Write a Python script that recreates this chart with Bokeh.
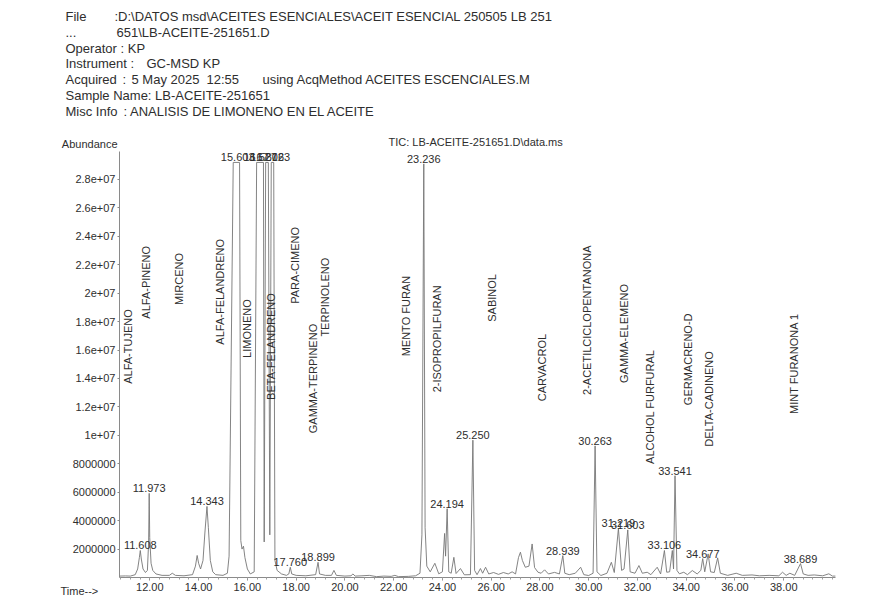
import numpy as np
from bokeh.plotting import figure
from bokeh.models import FixedTicker, Range1d, ColumnDataSource
from bokeh.core.properties import value
from bokeh.embed import file_html
from bokeh.resources import INLINE

FONT = "Liberation Sans"
INK = "#2e2e2e"
TRACE = "#767676"

# ---------------- data ----------------
# TIC trace (retention time in min, abundance)
rt_min = [10.76, 11.00, 11.20, 11.40, 11.50, 11.57, 11.608, 11.65, 11.72, 11.82,
          11.90, 11.95, 11.973, 11.995, 12.05, 12.12, 12.25, 12.50, 12.80, 12.92,
          13.05, 13.40, 13.75, 13.87, 13.94, 14.00, 14.08, 14.18, 14.26, 14.343,
          14.40, 14.48, 14.58, 14.70, 15.00, 15.18, 15.25, 15.42, 15.68, 15.73,
          15.78, 15.84, 15.90, 16.00, 16.12, 16.28, 16.38, 16.66, 16.69, 16.75,
          16.86, 16.92, 16.98, 17.08, 17.13, 17.22, 17.40, 17.60, 17.70, 17.76,
          17.82, 18.00, 18.40, 18.80, 18.899, 18.96, 19.20, 19.45, 19.55, 19.65,
          20.00, 20.25, 20.33, 20.42, 20.70, 21.00, 21.30, 21.60, 21.90, 22.05,
          22.20, 22.60, 22.90, 23.08, 23.16, 23.236, 23.29, 23.36, 23.50, 23.69,
          23.85, 24.00, 24.09, 24.13, 24.194, 24.26, 24.36, 24.47, 24.56, 24.74,
          24.90, 25.15, 25.250, 25.32, 25.42, 25.56, 25.65, 25.77, 25.90, 26.10,
          26.30, 26.50, 26.70, 26.86, 27.00, 27.12, 27.20, 27.28, 27.40, 27.55,
          27.68, 27.78, 27.92, 28.05, 28.19, 28.35, 28.60, 28.80, 28.939, 29.02,
          29.20, 29.45, 29.67, 29.80, 30.00, 30.18, 30.263, 30.34, 30.50, 30.75,
          30.93, 31.05, 31.219, 31.35, 31.45, 31.603, 31.70, 31.90, 32.06, 32.20,
          32.40, 32.55, 32.81, 32.95, 33.106, 33.20, 33.32, 33.43, 33.48, 33.541,
          33.62, 33.72, 33.90, 34.05, 34.25, 34.45, 34.60, 34.677, 34.76, 34.90,
          35.00, 35.15, 35.29, 35.40, 35.70, 36.05, 36.30, 36.70, 37.00, 37.40,
          37.80, 37.95, 38.10, 38.25, 38.45, 38.689, 38.80, 39.00, 39.25, 39.60,
          39.85, 40.00, 40.12]
abundance = [1.0e5, 1.1e5, 1.0e5, 2.0e5, 6.0e5, 1.4e6, 1.9e6, 1.3e6, 6.0e5, 3.5e5,
             5.0e5, 2.5e6, 5.92e6, 2.8e6, 1.0e6, 5.0e5, 2.5e5, 1.5e5, 1.5e5, 3.0e5,
             1.5e5, 1.2e5, 2.0e5, 8.0e5, 1.55e6, 1.0e6, 6.0e5, 1.2e6, 3.2e6, 5.0e6,
             3.5e6, 1.2e6, 4.0e5, 2.0e5, 1.5e5, 3.0e5, 1.5e6, 2.92e7, 2.92e7, 2.6e6,
             2.0e6, 2.2e6, 1.4e6, 6.0e5, 2.5e5, 4.0e5, 2.92e7, 2.92e7, 2.5e6, 2.92e7,
             2.92e7, 3.0e6, 2.92e7, 2.92e7, 1.2e6, 5.0e5, 2.5e5, 1.5e5, 2.5e5, 7.2e5,
             2.5e5, 1.5e5, 1.2e5, 2.0e5, 1.07e6, 2.5e5, 1.5e5, 1.5e5, 5.0e5, 1.5e5,
             1.0e5, 1.2e5, 2.5e5, 1.0e5, 1.2e5, 1.5e5, 6.0e4, 1.0e5, 8.0e4, 1.5e5,
             6.0e4, 8.0e4, 1.2e5, 3.0e5, 3.0e6, 2.91e7, 3.5e6, 8.0e5, 4.0e5, 1.0e6,
             2.6e5, 4.0e5, 3.1e6, 1.5e6, 4.84e6, 4.0e5, 3.0e5, 1.42e6, 2.8e5, 6.3e5,
             1.9e5, 2.0e5, 9.66e6, 5.0e5, 2.0e5, 6.3e5, 3.0e5, 7.2e5, 2.5e5, 3.5e5,
             2.2e5, 3.5e5, 2.5e5, 4.0e5, 2.5e5, 1.4e6, 1.78e6, 1.2e6, 7.2e5, 8.0e5,
             2.36e6, 7.0e5, 3.7e5, 3.0e5, 5.4e5, 2.5e5, 3.6e5, 2.5e5, 1.54e6, 3.0e5,
             2.0e5, 3.0e5, 7.2e5, 2.0e5, 1.4e5, 3.0e5, 9.26e6, 4.0e5, 1.4e5, 3.0e5,
             1.07e6, 3.5e5, 3.45e6, 5.0e5, 6.0e5, 3.35e6, 4.0e5, 3.0e5, 8.4e5, 3.0e5,
             3.7e5, 2.0e5, 7.2e5, 2.5e5, 1.9e6, 3.7e5, 4.0e5, 1.9e6, 6.0e5, 7.16e6,
             5.0e5, 2.6e5, 3.7e5, 2.0e5, 4.9e5, 2.5e5, 5.0e5, 1.33e6, 4.0e5, 1.66e6,
             4.0e5, 3.5e5, 1.38e6, 3.0e5, 1.5e5, 3.0e5, 1.5e5, 1.8e5, 1.2e5, 1.5e5,
             1.2e5, 3.7e5, 1.5e5, 3.0e5, 1.5e5, 9.8e5, 2.5e5, 1.5e5, 1.8e5, 1.2e5,
             2.6e5, 1.0e5, 1.0e5]

# integrated peaks labelled with their retention time
peak_rt = [11.608, 11.973, 14.343, 15.603, 16.527, 16.812, 17.063, 17.760, 18.899,
           23.236, 24.194, 25.250, 28.939, 30.263, 31.219, 31.603, 33.106, 33.541,
           34.677, 38.689]

# compound names (vertical annotations): retention time and abundance level of label centre
compound_names = ["ALFA-TUJENO", "ALFA-PINENO", "MIRCENO", "ALFA-FELANDRENO", "LIMONENO",
                  "BETA-FELANDRENO", "PARA-CIMENO", "GAMMA-TERPINENO", "TERPINOLENO",
                  "MENTO FURAN", "2-ISOPROPILFURAN", "SABINOL", "CARVACROL",
                  "2-ACETILCICLOPENTANONA", "GAMMA-ELEMENO", "ALCOHOL FURFURAL",
                  "GERMACRENO-D", "DELTA-CADINENO", "MINT FURANONA 1"]
compound_rt = [11.12, 11.86, 13.19, 14.87, 15.99, 16.95, 17.97, 18.68, 19.20,
               22.49, 23.79, 26.03, 28.09, 29.94, 31.44, 32.53, 34.07, 34.93, 38.41]
compound_level = [1.625e7, 2.077e7, 2.10e7, 2.01e7, 1.751e7, 1.625e7, 2.196e7, 1.40e7, 1.972e7,
                  1.839e7, 1.679e7, 1.967e7, 1.477e7, 1.81e7, 1.717e7, 1.201e7, 1.535e7,
                  1.256e7, 1.505e7]

# axes
x_ticks = [12, 14, 16, 18, 20, 22, 24, 26, 28, 30, 32, 34, 36, 38]
x_tick_labels = ["12.00", "14.00", "16.00", "18.00", "20.00", "22.00", "24.00",
                 "26.00", "28.00", "30.00", "32.00", "34.00", "36.00", "38.00"]
y_ticks = [2e6, 4e6, 6e6, 8e6, 1e7, 1.2e7, 1.4e7, 1.6e7, 1.8e7, 2e7, 2.2e7, 2.4e7, 2.6e7, 2.8e7]
y_tick_labels = ["2000000", "4000000", "6000000", "8000000", "1e+07", "1.2e+07", "1.4e+07",
                 "1.6e+07", "1.8e+07", "2e+07", "2.2e+07", "2.4e+07", "2.6e+07", "2.8e+07"]

# report header (text, x pixel, y pixel on page)
header = [
    ("File", 65, 16), (":D:\\DATOS msd\\ACEITES ESENCIALES\\ACEIT ESENCIAL 250505 LB 251", 114, 16),
    ("...", 65, 32), ("651\\LB-ACEITE-251651.D", 116, 32),
    ("Operator", 65, 48), (": KP", 120, 48),
    ("Instrument :", 65, 63), ("GC-MSD KP", 146, 63),
    ("Acquired", 65, 79), (":", 122, 79), ("5 May 2025", 131, 79), ("12:55", 206, 79),
    ("using AcqMethod ACEITES ESCENCIALES.M", 262, 79),
    ("Sample Name: LB-ACEITE-251651", 65, 95),
    ("Misc Info", 65, 111), (": ANALISIS DE LIMONENO EN EL ACEITE", 123, 111),
]

# ---------------- page geometry ----------------
W, H = 885, 597
PX_LEFT, PX_BASE = 119, 577          # page pixel of time axis start / zero abundance
X0, X1 = 10.755, 40.12               # time span of the chromatogram
PPM = 24.38                          # pixels per minute
VPP = 70350.0                        # abundance per pixel
Y_TOP = 3.0e7


def tx(px):
    return X0 + (px - PX_LEFT) / PPM


def ty(py):
    return (PX_BASE - py) * VPP


p = figure(width=W, height=H, x_range=Range1d(tx(0), tx(W)), y_range=Range1d(ty(H), ty(0)),
           output_backend="svg", toolbar_location=None,
           min_border_left=0, min_border_right=0, min_border_top=0, min_border_bottom=0)
p.outline_line_color = None
p.grid.visible = False
p.background_fill_color = "white"
p.border_fill_color = "white"

p.xaxis.fixed_location = 0
p.xaxis.bounds = (X0, X1)
p.yaxis.fixed_location = X0
p.yaxis.bounds = (0, Y_TOP)

p.xaxis.ticker = FixedTicker(ticks=x_ticks, minor_ticks=list(np.arange(10.8, 40.1, 0.4)))
p.xaxis.major_label_overrides = {t: l for t, l in zip(x_ticks, x_tick_labels)}
p.yaxis.ticker = FixedTicker(ticks=y_ticks)
p.yaxis.major_label_overrides = {t: l for t, l in zip(y_ticks, y_tick_labels)}
for ax in (p.xaxis, p.yaxis):
    ax.major_label_text_font = FONT
    ax.major_label_text_font_size = "11px"
    ax.major_label_text_color = INK
    ax.axis_line_color = "#8a8a8a"
    ax.major_tick_line_color = "#8a8a8a"
    ax.minor_tick_line_color = "#a0a0a0"
    ax.major_tick_in = 0
    ax.minor_tick_in = 0
p.xaxis.major_tick_out = 3
p.xaxis.minor_tick_out = 2
p.xaxis.major_label_standoff = 2
p.yaxis.major_tick_out = 2
p.yaxis.minor_tick_out = 0
p.yaxis.major_label_standoff = 2

src = ColumnDataSource(dict(t=rt_min, a=abundance))
p.line("t", "a", source=src, line_color=TRACE, line_width=0.9)

apex = np.interp(peak_rt, rt_min, abundance)
p.text(x=peak_rt, y=apex, text=[f"{t:.3f}" for t in peak_rt], text_align="center",
       text_baseline="bottom", y_offset=-1, text_font=value(FONT), text_font_size="11px",
       text_color=INK)

p.text(x=compound_rt, y=compound_level, text=compound_names, angle=np.pi / 2,
       text_align="center", text_baseline="middle", text_font=value(FONT),
       text_font_size="11px", text_color=INK)

# header and frame captions
p.text(x=[tx(h[1]) for h in header], y=[ty(h[2]) for h in header], text=[h[0] for h in header],
       text_align="left", text_baseline="middle", text_font=value(FONT),
       text_font_size="13px", text_color=INK)
p.text(x=[tx(117)], y=[ty(143)], text=["Abundance"], text_align="right",
       text_baseline="middle", text_font=value(FONT), text_font_size="11px", text_color=INK)
p.text(x=[tx(388)], y=[ty(141)], text=["TIC: LB-ACEITE-251651.D\\data.ms"], text_align="left",
       text_baseline="middle", text_font=value(FONT), text_font_size="11px", text_color=INK)
p.text(x=[tx(60)], y=[ty(590)], text=["Time-->"], text_align="left",
       text_baseline="middle", text_font=value(FONT), text_font_size="11px", text_color=INK)

open("out.html", "w").write(file_html(p, INLINE))
